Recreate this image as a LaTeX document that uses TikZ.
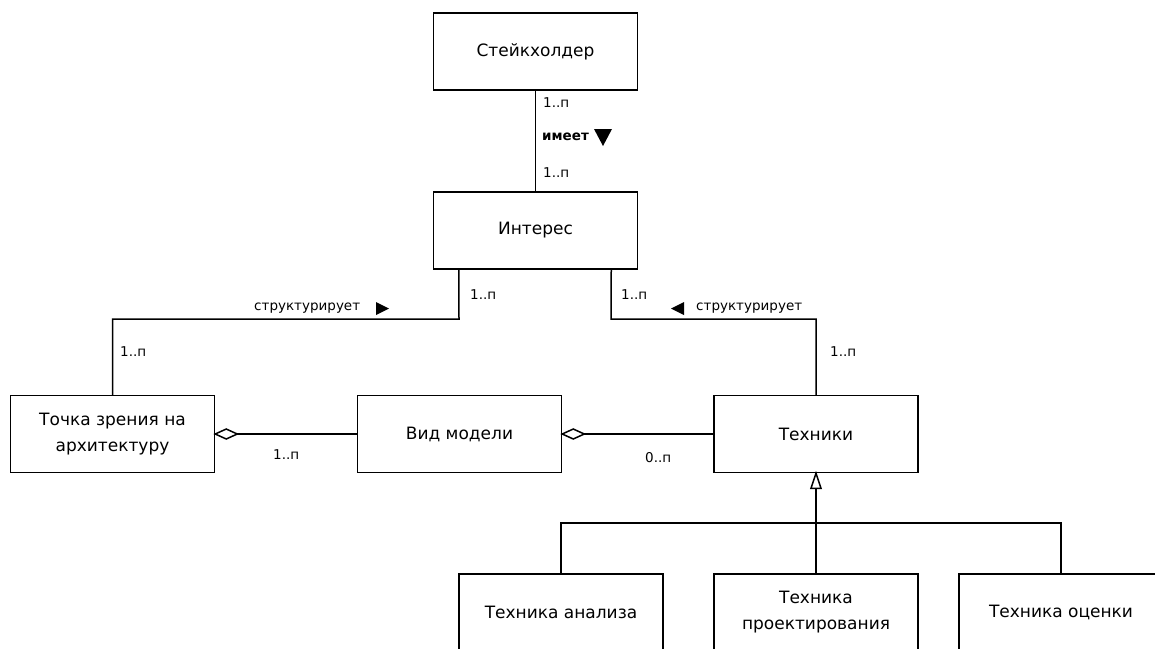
\documentclass[tikz,border=0pt]{standalone}
\usepackage{fontspec}
\setmainfont{DejaVu Sans}
\usetikzlibrary{calc}
\begin{document}
\begin{tikzpicture}[x=1pt,y=-1pt,
  cls/.style={draw,line width=1.5pt,minimum width=204pt,minimum height=77pt,
    inner sep=0pt,align=center,font=\fontsize{17}{26}\selectfont},
  conn/.style={line width=1.5pt},
  lbl/.style={inner sep=0pt,anchor=west,font=\fontsize{13.5}{15}\selectfont},
  tri/.style={fill=black}]
\useasboundingbox (0,0) rectangle (1155,648);

% classes
\node[cls] (stake) at (535.5,51.5) {Стейкхолдер};
\node[cls] (interest) at (535.5,230.5) {Интерес};
\node[cls] (view) at (112.5,434) {Точка зрения на\\архитектуру};
\node[cls] (model) at (459.5,434) {Вид модели};
\node[cls] (tech) at (816,434) {Техники};
\node[cls] (tan) at (561,612.5) {Техника анализа};
\node[cls] (tpr) at (816,612.5) {Техника\\проектирования};
\node[cls] (tev) at (1061,612.5) {Техника оценки};

% Стейкхолдер -- Интерес
\draw[conn] (stake) -- (interest);
\node[lbl] (m1) at (543,103) {1..п};
\node[lbl,font=\fontsize{13.5}{15}\selectfont\bfseries] (has) at (542,137) {имеет};
\fill[tri] (594,129) -- (612,129) -- (603,146) -- cycle;
\node[lbl] (m2) at (543,173) {1..п};

% Интерес -- Точка зрения
\coordinate (lbend) at (459,319);
\draw[conn] ([xshift=26pt]interest.south west) -- (lbend) -| (view.north);
\node[lbl] (m3) at (470,295) {1..п};
\node[lbl] (m4) at (120,352) {1..п};
\node[lbl] (s1) at (254,308) {структурирует};
\fill[tri] (376,302) -- (389,308.5) -- (376,315) -- cycle;

% Интерес -- Техники
\coordinate (rbend) at (611,319);
\draw[conn] ([xshift=-27pt]interest.south east) -- (rbend) -| (tech.north);
\node[lbl] (m5) at (621,295) {1..п};
\node[lbl] (m6) at (830,352) {1..п};
\node[lbl] (s2) at (696,308) {структурирует};
\fill[tri] (684,302) -- (671,308.5) -- (684,315) -- cycle;

% aggregation: Вид модели -- Точка зрения
\draw[conn] (model.west) -- ([xshift=22pt]view.east);
\draw[conn,fill=white] (view.east) -- ++(11,-5) -- ++(11,5) -- ++(-11,5) -- cycle;
\node[lbl] (m7) at (273,455) {1..п};

% aggregation: Техники -- Вид модели
\draw[conn] (tech.west) -- ([xshift=22pt]model.east);
\draw[conn,fill=white] (model.east) -- ++(11,-5) -- ++(11,5) -- ++(-11,5) -- cycle;
\node[lbl] (m8) at (645,458) {0..п};

% generalisation of Техники
\coordinate (gbar) at (816,523);
\draw[conn] ([yshift=-15pt]tech.south) -- (gbar);
\draw[conn,fill=white] (tech.south) -- ++(5,15) -- ++(-10,0) -- cycle;
\draw[conn] (tan.north) |- (gbar) -| (tev.north);
\draw[conn] (gbar) -- (tpr.north);
\end{tikzpicture}
\end{document}
